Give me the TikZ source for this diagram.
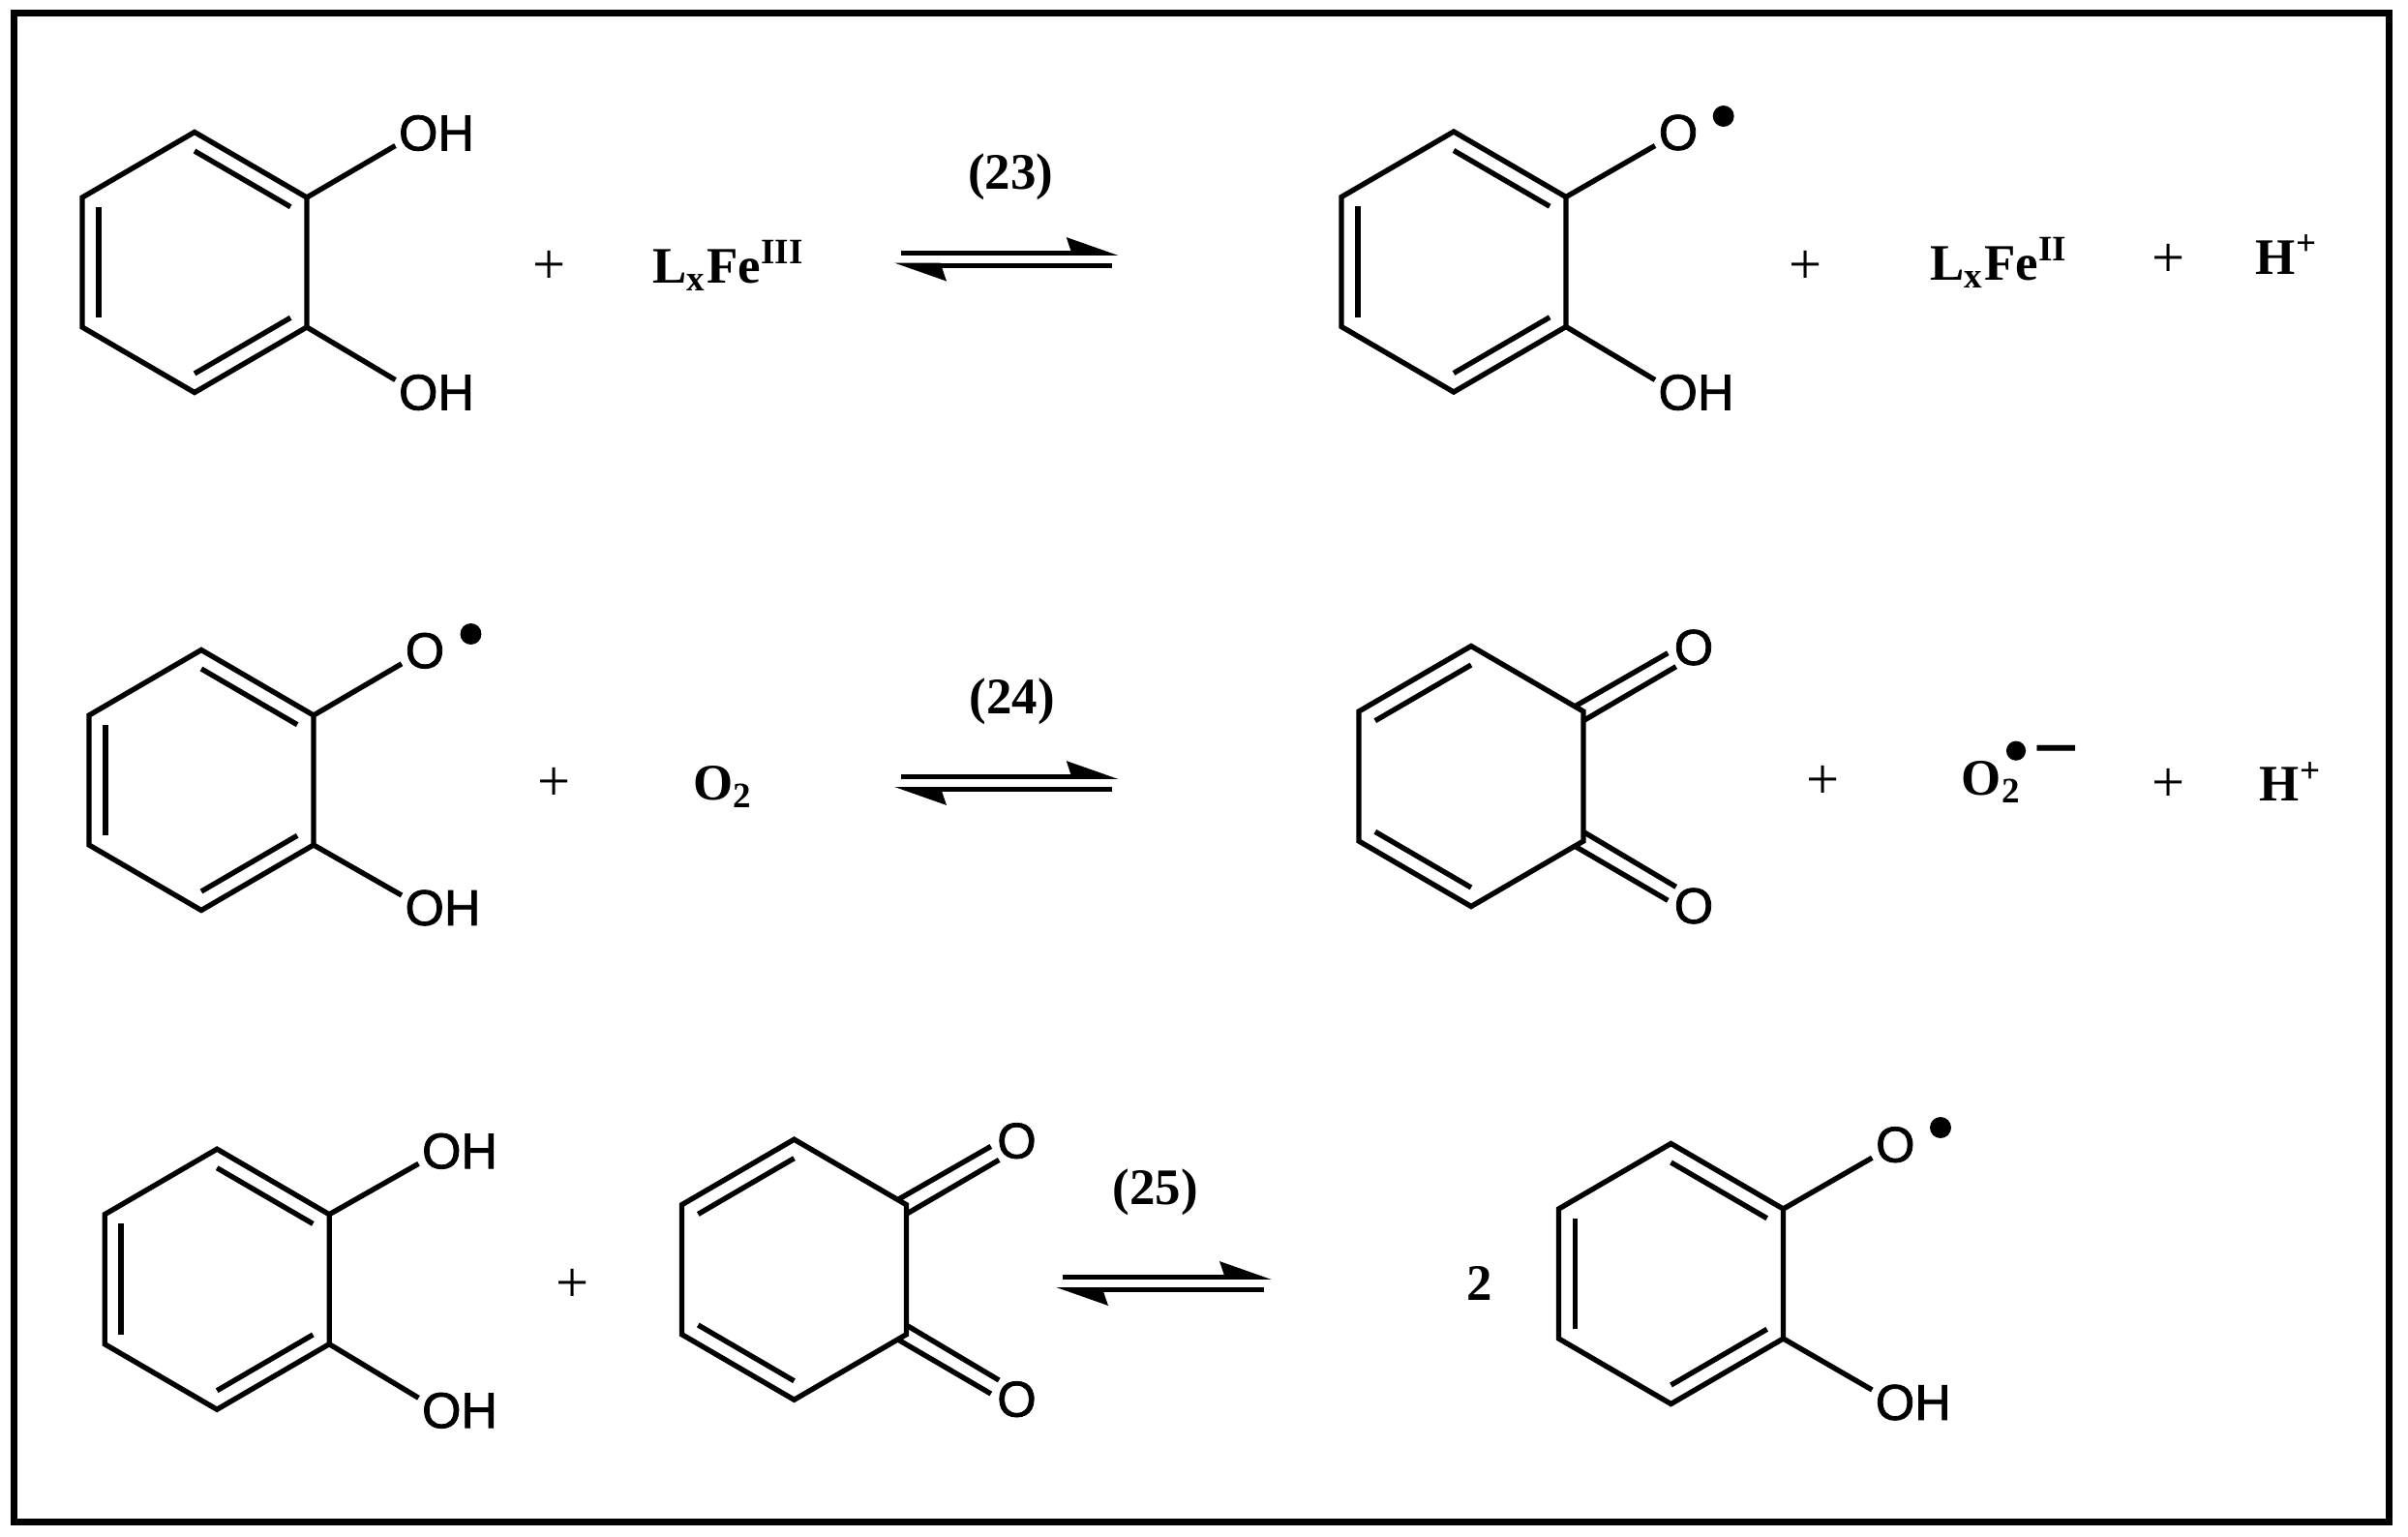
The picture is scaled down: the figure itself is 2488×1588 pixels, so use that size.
\documentclass[tikz,border=0pt]{standalone}
\usepackage{fontspec}
\setmainfont{Liberation Serif}
\newfontfamily\atomfont{Liberation Sans}[FakeBold=1.5]
\usetikzlibrary{arrows.meta,calc}

\newcommand{\hexring}[3]{
  \coordinate (#1o) at (#2,#3);
  \coordinate (#1a) at ($(#1o)+(0,-134.5)$);
  \coordinate (#1b) at ($(#1o)+(116,-67)$);
  \coordinate (#1c) at ($(#1o)+(116,67)$);
  \coordinate (#1d) at ($(#1o)+(0,134.5)$);
  \coordinate (#1e) at ($(#1o)+(-116,67)$);
  \coordinate (#1f) at ($(#1o)+(-116,-67)$);
  \draw[bond] (#1a) -- (#1b) -- (#1c) -- (#1d) -- (#1e) -- (#1f) -- cycle;
}
\newcommand{\innerbond}[3]{
  \draw[bond] ($(#2)!.145!(#1o)$) -- ($(#3)!.145!(#1o)$);
}
\newcommand{\diolring}[3]{
  \hexring{#1}{#2}{#3}
  \innerbond{#1}{#1a}{#1b}
  \innerbond{#1}{#1c}{#1d}
  \innerbond{#1}{#1e}{#1f}
}
\newcommand{\dionering}[3]{
  \hexring{#1}{#2}{#3}
  \innerbond{#1}{#1a}{#1f}
  \innerbond{#1}{#1d}{#1e}
  \node[atom] (#1u) at ($(#1o)+(230,-133)$) {O};
  \node[atom] (#1l) at ($(#1o)+(230,134)$) {O};
  \draw[bond] ($(#1b)+(-8,-5.7)$) -- ($(#1u)+(-26.7,5.7)$);
  \draw[bond] ($(#1b)+(1,9)$) -- ($(#1u)+(-18.3,19.7)$);
  \draw[bond] ($(#1c)+(-8,5.7)$) -- ($(#1l)+(-26.7,-5.7)$);
  \draw[bond] ($(#1c)+(1,-9)$) -- ($(#1l)+(-18.3,-19.7)$);
}

\begin{document}
\begin{tikzpicture}[x=0.0078375cm,y=-0.0078375cm]
\tikzstyle{bond}=[line width=1.2pt,line join=miter]
\tikzstyle{atom}=[font=\atomfont\fontsize{11.6}{12}\selectfont,inner sep=0pt]
\tikzstyle{species}=[font=\bfseries\fontsize{11.8}{12}\selectfont,inner sep=0pt]
\tikzstyle{plus}=[font=\fontsize{13.5}{14}\selectfont,inner sep=0pt,yshift=-0.4pt]
\tikzstyle{radical}=[circle,fill=black,inner sep=0pt,minimum size=4.9pt]
\tikzstyle{forward}=[line width=1.18pt,-{Stealth[harpoon,length=10.2pt,width=7pt,inset=1.1pt]}]
\useasboundingbox (0,0) rectangle (2488,1588);
\draw[line width=1.55pt] (14.4,13.3) rectangle (2468.5,1572.5);

\diolring{cata}{201}{271}
\node[atom] (ohA) at (451,137.5) {OH};
\node[atom] (ohB) at (451,405.5) {OH};
\draw[bond] (catab) -- ($(ohA)+(-42.5,13)$);
\draw[bond] (catac) -- ($(ohB)+(-42.5,-13)$);
\node[plus] (plusA) at (567.6,275) {+};
\node[species,anchor=base west] (feA) at (673.6,292) {L\textsubscript{x}Fe\textsuperscript{III}};
\node[species] (numA) at (1044.4,183) {(23)};
\coordinate (arAl) at (931,261.3);
\coordinate (arAr) at (1155.7,261.3);
\coordinate (arBl) at (924,274.3);
\coordinate (arBr) at (1149,274.3);
\draw[forward] (arAl) -- (arAr);
\draw[forward] (arBr) -- (arBl);
\diolring{semb}{1502}{270.5}
\node[atom] (oC) at (1734,137) {O};
\node[radical] (dotC) at (1780.7,120) {};
\node[atom] (ohC) at (1752.5,405.5) {OH};
\draw[bond] (sembb) -- ($(oC)+(-24,13.5)$);
\draw[bond] (sembc) -- ($(ohC)+(-42.5,-13)$);
\node[plus] (plusB) at (1866,275) {+};
\node[species,anchor=base west] (feB) at (1993.7,289) {L\textsubscript{x}Fe\textsuperscript{II}};
\node[plus] (plusC) at (2240.8,268) {+};
\node[species,anchor=base west] (hA) at (2330,283) {H\textsuperscript{+}};

\diolring{semc}{208}{806}
\node[atom] (oD) at (439,672.3) {O};
\node[radical] (dotD) at (486.5,655) {};
\node[atom] (ohD) at (457.5,938) {OH};
\draw[bond] (semcb) -- ($(oD)+(-24,13.5)$);
\draw[bond] (semcc) -- ($(ohD)+(-42.5,-13)$);
\node[plus] (plusD) at (572.8,809) {+};
\node[species,anchor=base west] (oxA) at (715.7,826) {O\textsubscript{2}};
\node[species] (numB) at (1045.7,725) {(24)};
\coordinate (arCl) at (931,802.3);
\coordinate (arCr) at (1155.7,802.3);
\coordinate (arDl) at (924,815.7);
\coordinate (arDr) at (1149,815.7);
\draw[forward] (arCl) -- (arCr);
\draw[forward] (arDr) -- (arDl);
\dionering{quid}{1520}{802}
\node[plus] (plusE) at (1883.4,806.7) {+};
\node[species,anchor=base west] (oxB) at (2026,821.7) {O\textsubscript{2}};
\node[radical,minimum size=4.5pt] (dotE) at (2083,775.7) {};
\node[species,font=\bfseries\fontsize{19}{19}\selectfont] (minE) at (2125,786) {−};
\node[plus] (plusF) at (2241,810) {+};
\node[species,anchor=base west] (hB) at (2334,827.7) {H\textsuperscript{+}};

\diolring{cate}{224.2}{1321.7}
\node[atom] (ohE) at (475,1189.3) {OH};
\node[atom] (ohF) at (475,1457.3) {OH};
\draw[bond] (cateb) -- ($(ohE)+(-42.5,13)$);
\draw[bond] (catec) -- ($(ohF)+(-42.5,-13)$);
\node[plus] (plusG) at (592,1326.6) {+};
\dionering{quif}{820.5}{1311.7}
\node[species] (numC) at (1193.7,1231.7) {(25)};
\coordinate (arEl) at (1098,1319.3);
\coordinate (arEr) at (1314,1319.3);
\coordinate (arFl) at (1091,1332.7);
\coordinate (arFr) at (1306,1332.7);
\draw[forward] (arEl) -- (arEr);
\draw[forward] (arFr) -- (arFl);
\node[species] (two) at (1528.7,1326) {2};
\diolring{semg}{1726.5}{1316}
\node[atom] (oG) at (1958.3,1182.7) {O};
\node[radical] (dotG) at (2005,1165) {};
\node[atom] (ohG) at (1976.8,1449) {OH};
\draw[bond] (semgb) -- ($(oG)+(-24,13.5)$);
\draw[bond] (semgc) -- ($(ohG)+(-42.5,-13)$);
\end{tikzpicture}
\end{document}
